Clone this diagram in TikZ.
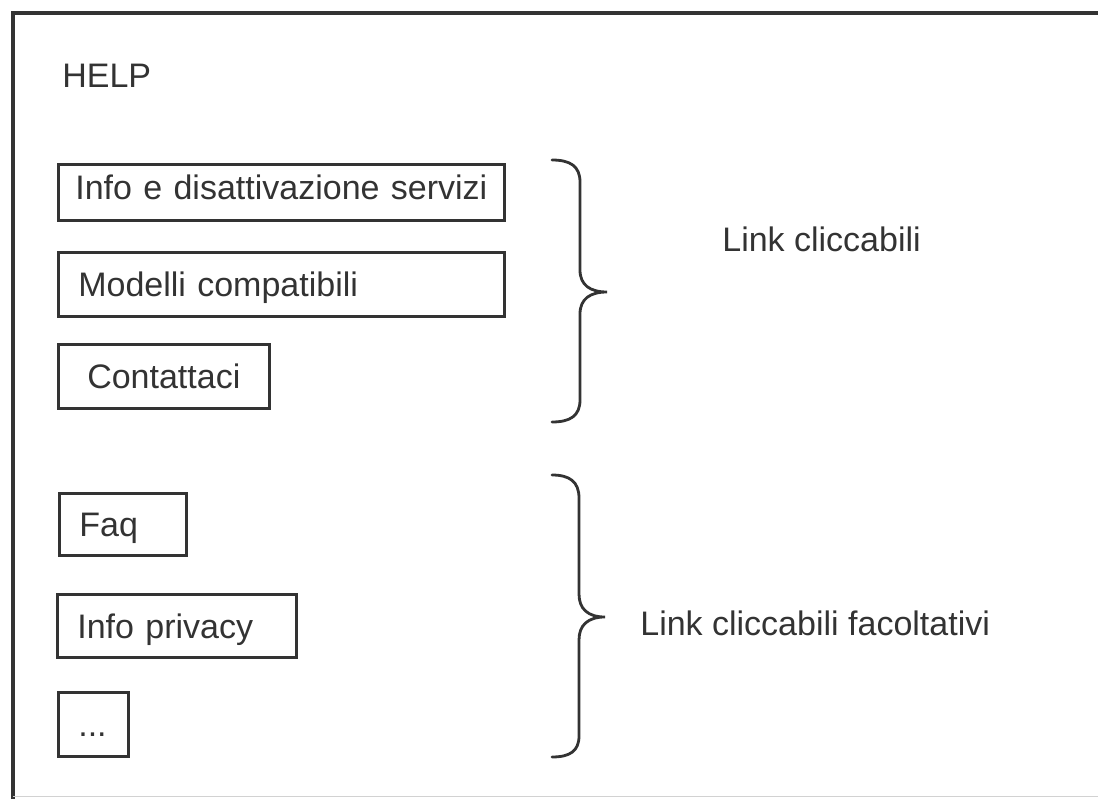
\documentclass[tikz,border=0pt]{standalone}
\usepackage{fontspec}
\setmainfont{Liberation Sans}
\usepackage{tikz}
\usepackage{xcolor}
\usetikzlibrary{calc}

\definecolor{ink}{HTML}{333333}

\tikzset{
  linkbox/.style={draw=ink, line width=1.5pt, anchor=north west, align=left,
    inner xsep=0.4cm, inner ysep=0pt, text height=0.49cm, text depth=0cm},
  curly/.style={draw=ink, line width=1.6pt, line cap=round},
  frame/.style={draw=ink, line width=2pt},
  every node/.style={text=ink, font=\fontsize{19.35pt}{23pt}\selectfont}
}

\begin{document}
\begin{tikzpicture}
\useasboundingbox (0,0) rectangle (21.96,15.98);
% outer frame
\draw[frame] (21.96,15.72) -- (0.26,15.72) -- (0.26,0);
\draw[gray!35, line width=1pt] (0.26,0.05) -- (21.96,0.05);

\node[anchor=base west, inner sep=0pt] (help) at (1.24,14.22) {HELP};

% first group
\node[linkbox, inner xsep=0.2cm, text width=8.52cm, minimum height=1.12cm, text depth=0.2cm, align=center] (servizi) at (1.14,12.72) {Info e disattivazione servizi};
\node[linkbox, text width=8.12cm, minimum height=1.28cm] (modelli) at (1.14,10.96) {Modelli compatibili};
\node[linkbox, text width=3.42cm, minimum height=1.28cm, align=center] (contatti) at (1.14,9.12) {Contattaci};

% second group
\node[linkbox, text width=1.74cm, minimum height=1.24cm] (faq) at (1.16,6.14) {Faq};
\node[linkbox, text width=3.98cm, minimum height=1.26cm] (privacy) at (1.12,4.12) {Info privacy};
\node[linkbox, text width=0.60cm, minimum height=1.28cm] (altro) at (1.14,2.16) {...};

% braces
\draw[curly] (11.04,12.78) .. controls (11.40,12.78) and (11.60,12.66) .. (11.60,12.34)
  -- (11.60,10.58) .. controls (11.60,10.28) and (11.80,10.14) .. (12.14,10.14)
  .. controls (11.80,10.14) and (11.60,10.00) .. (11.60,9.70)
  -- (11.60,7.98) .. controls (11.60,7.66) and (11.40,7.54) .. (11.04,7.54);
\draw[curly] (11.04,6.48) .. controls (11.40,6.48) and (11.58,6.34) .. (11.58,6.02)
  -- (11.58,4.10) .. controls (11.58,3.80) and (11.76,3.64) .. (12.10,3.64)
  .. controls (11.76,3.64) and (11.58,3.48) .. (11.58,3.18)
  -- (11.58,1.26) .. controls (11.58,0.96) and (11.40,0.84) .. (11.04,0.84);

\node[anchor=base west, inner sep=0pt] (cliccabili) at (14.44,10.94) {Link cliccabili};
\node[anchor=base west, inner sep=0pt] (facoltativi) at (12.80,3.28) {Link cliccabili facoltativi};
\end{tikzpicture}
\end{document}
